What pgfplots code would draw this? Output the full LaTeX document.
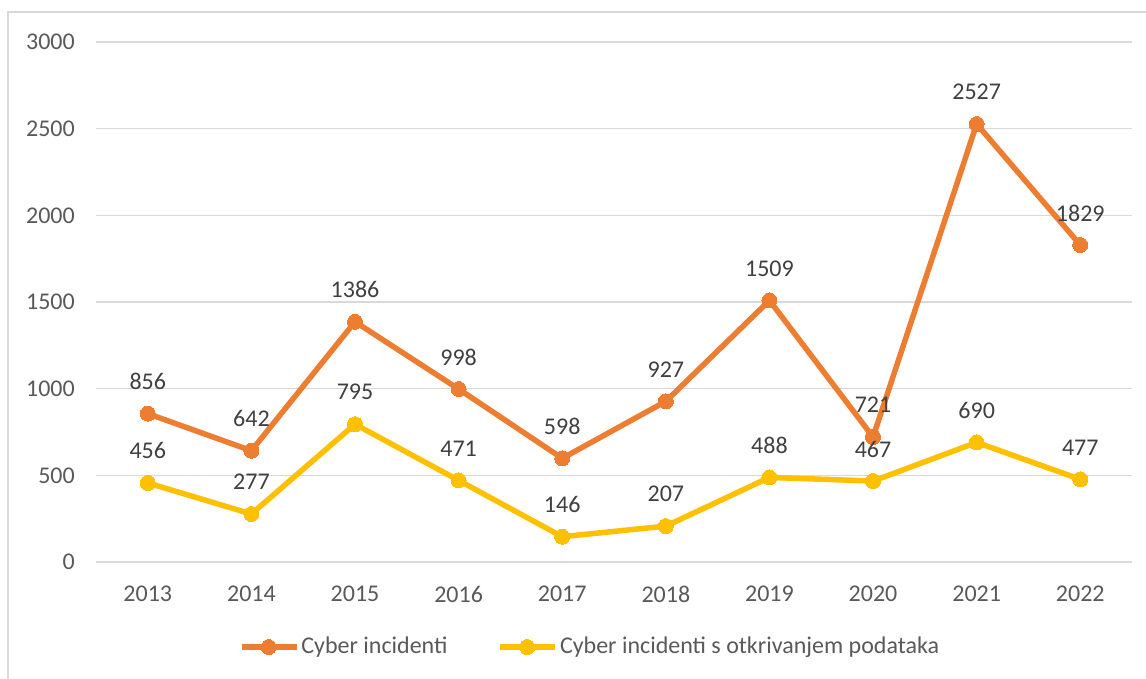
\documentclass[border=0pt]{standalone}
\usepackage{pgfplots}
\pgfplotsset{compat=1.18}
\usepackage{fontspec}
\setmainfont{Carlito}
\definecolor{orangeC}{HTML}{ED7D31}
\definecolor{yellowC}{HTML}{FFC000}
\definecolor{txt}{HTML}{595959}
\definecolor{lbl}{HTML}{404040}
\definecolor{gridC}{HTML}{D9D9D9}
\begin{document}
\fontsize{24}{29}\selectfont
\begin{tikzpicture}
\begin{axis}[
  scale only axis, width=1036pt, height=520pt,
  xmin=-0.5, xmax=9.5, ymin=0, ymax=3000,
  axis line style={draw=none},
  major tick length=0pt,
  ytick={0,500,...,3000},
  ymajorgrids, grid style={gridC, line width=1.5pt},
  xtick={0,...,9},
  xticklabels={2013,2014,2015,2016,2017,2018,2019,2020,2021,2022},
  tick label style={text=txt, font=\fontsize{24}{29}\selectfont},
  /pgf/number format/assume math mode=true,
  /pgf/number format/1000 sep={},
  yticklabel style={xshift=-13pt},
  xticklabel style={yshift=-16pt},
  clip=false,
  nodes near coords,
  every node near coord/.append style={anchor=center, yshift=32pt, text=lbl, font=\fontsize{24}{29}\selectfont},
  legend columns=2,
  legend style={draw=none, fill=none, at={(0.4768,-0.1635)}, anchor=center,
    font=\fontsize{24}{29}\selectfont, text=txt,
    /tikz/every even column/.append style={column sep=48pt}},
  legend image code/.code={\draw[#1, mark repeat=2, mark phase=2] plot coordinates {(0pt,0pt) (27pt,0pt) (55pt,0pt)};},
]
\addplot[orangeC, line width=5.5pt, mark=*, mark size=7.5pt, mark options={fill=orangeC, draw=orangeC, line width=0pt}]
  coordinates {(0,856) (1,642) (2,1386) (3,998) (4,598) (5,927) (6,1509) (7,721) (8,2527) (9,1829)};
\addlegendentry{Cyber incidenti}
\addplot[yellowC, line width=5.5pt, mark=*, mark size=7.5pt, mark options={fill=yellowC, draw=yellowC, line width=0pt}]
  coordinates {(0,456) (1,277) (2,795) (3,471) (4,146) (5,207) (6,488) (7,467) (8,690) (9,477)};
\addlegendentry{Cyber incidenti s otkrivanjem podataka}
\coordinate (bl) at (rel axis cs:0,0);
\end{axis}
\pgfresetboundingbox
\path[use as bounding box] (bl) ++(-96pt,-116pt) rectangle ++(1146pt,678pt);
\draw[gridC, line width=1.5pt] (bl) ++(-88pt,-125pt) -- ++(0pt,675pt) -- ++(1200pt,0pt);
\end{tikzpicture}
\end{document}
